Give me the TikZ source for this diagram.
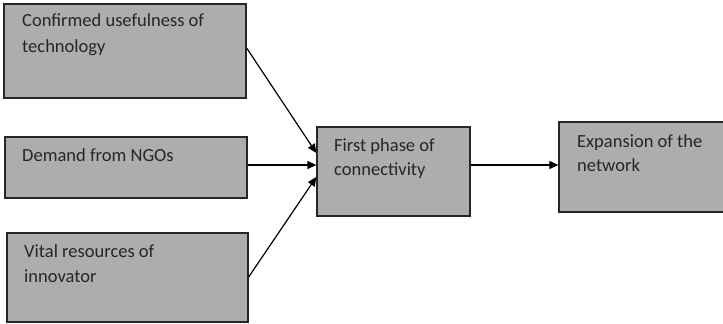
\documentclass[tikz,border=0pt]{standalone}
\usepackage{fontspec}
\setmainfont{Carlito}
\usetikzlibrary{arrows.meta}
\definecolor{boxgray}{HTML}{ADADAD}
\definecolor{txt}{HTML}{262626}
\tikzset{
  stagebox/.style={draw=black!85, fill=boxgray, line width=1.3pt, rectangle, inner sep=0pt},
  lbl/.style={anchor=base west, inner sep=0pt, text=txt, font=\fontsize{18.5}{25}\selectfont},
  conn/.style={line width=1.2pt, -{Triangle[length=9pt,width=8pt]}}
}
\begin{document}
\begin{tikzpicture}[x=1pt,y=-1pt]
\useasboundingbox (0,0) rectangle (723,324);
\begin{scope}
\clip (0,0) rectangle (723,324);
\node[stagebox, minimum width=242pt, minimum height=94pt] (b1) at (125,51) {};
\node[stagebox, minimum width=242pt, minimum height=61pt] (b2) at (126,167.5) {};
\node[stagebox, minimum width=241pt, minimum height=89pt] (b3) at (127.5,277.5) {};
\node[stagebox, minimum width=153pt, minimum height=89pt] (b4) at (393.5,171.5) {};
\node[stagebox, minimum width=170pt, minimum height=90pt] (b5) at (644,167) {};
\end{scope}

\node[lbl] (t1a) at (22,27) {Confirmed usefulness of};
\node[lbl] (t1b) at (22,52) {technology};
\node[lbl] (t2) at (22,161) {Demand from NGOs};
\node[lbl] (t3a) at (24,257) {Vital resources of};
\node[lbl] (t3b) at (24,282) {innovator};
\node[lbl] (t4a) at (334,151) {First phase of};
\node[lbl] (t4b) at (334,175) {connectivity};
\node[lbl] (t5a) at (577,147) {Expansion of the};
\node[lbl] (t5b) at (577,171) {network};

\coordinate (p1) at (b4.west |- 0,153);
\coordinate (p2) at (b4.west |- 0,165);
\coordinate (p3) at (b4.west |- 0,177);
\coordinate (q1) at (b1.east |- 0,48);
\coordinate (q2) at (b2.east |- 0,165);
\coordinate (q3) at (b3.east |- 0,277);
\coordinate (r1) at (b4.east |- 0,165);
\coordinate (r2) at (b5.west |- 0,165);

\draw[conn] (q1) -- (p1);
\draw[conn] (q2) -- (p2);
\draw[conn] (q3) -- (p3);
\draw[conn] (r1) -- (r2);
\end{tikzpicture}
\end{document}
